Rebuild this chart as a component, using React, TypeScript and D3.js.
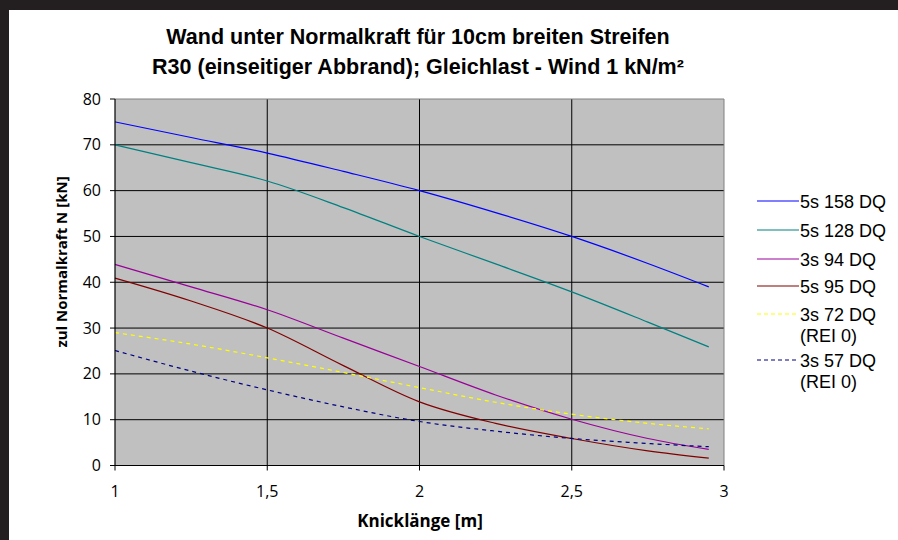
import React from "react";
import * as d3 from "d3";

const xValues = [1, 1.25, 1.5, 1.75, 2, 2.25, 2.5, 2.75, 2.95];
const s158 = [75, 71.6, 68.2, 64.2, 60, 55.2, 50, 44.1, 39];
const s128 = [70, 66.1, 62.1, 56.3, 50, 44, 37.9, 31.3, 25.9];
const s94 = [43.9, 39, 34, 27.8, 21.6, 15.4, 10.1, 5.9, 3.5];
const s95 = [40.9, 35.9, 30, 21.8, 13.9, 9.2, 5.9, 3.2, 1.6];
const s72 = [29, 26.5, 23.5, 20.3, 17, 13.8, 11.2, 9.2, 8.0];
const s57 = [25.1, 20.6, 16.5, 12.8, 9.6, 7.5, 5.9, 4.8, 4.1];

const seriesNames = ["5s 158 DQ", "5s 128 DQ", "3s 94 DQ", "5s 95 DQ", "3s 72 DQ", "3s 57 DQ"];
const seriesSub = ["", "", "", "", "(REI 0)", "(REI 0)"];
const seriesData = [s158, s128, s94, s95, s72, s57];
const seriesColors = ["#0000FF", "#008080", "#990099", "#800000", "#FFFF00", "#000080"];
const seriesDashed = [false, false, false, false, true, true];

const xTicks = [1, 1.5, 2, 2.5, 3];
const xTickLabels = ["1", "1,5", "2", "2,5", "3"];
const yTicks = [0, 10, 20, 30, 40, 50, 60, 70, 80];

const titleLines = [
  "Wand unter Normalkraft für 10cm breiten Streifen",
  "R30 (einseitiger Abbrand); Gleichlast - Wind 1 kN/m²",
];
const xTitle = "Knicklänge [m]";
const yTitle = "zul Normalkraft N [kN]";

export default function App() {
  const W = 898, H = 540;
  const x = d3.scaleLinear().domain([1, 3]).range([115, 724]);
  const y = d3.scaleLinear().domain([0, 80]).range([465.5, 99]);
  const line = d3
    .line<[number, number]>()
    .x((d) => x(d[0]))
    .y((d) => y(d[1]))
    .curve(d3.curveMonotoneX);

  const legendY = [201, 230, 259, 286, 314, 360];
  const tickFont = "'Open Sans', sans-serif";
  const arial = "'Liberation Sans', Arial, sans-serif";

  return (
    <svg width={W} height={H} style={{ position: "absolute", left: 0, top: 0 }}>
      <rect x={0} y={0} width={W} height={H} fill="#ffffff" />
      <rect x={0} y={0} width={W} height={10} fill="#231f20" />
      <rect x={0} y={0} width={9} height={H} fill="#231f20" />
      {titleLines.map((t, i) => (
        <text key={i} x={418} y={44 + i * 30} textAnchor="middle" fontFamily={arial} fontWeight="bold" fontSize={21.5} fill="#000">
          {t}
        </text>
      ))}
      <rect x={x(1)} y={y(80)} width={x(3) - x(1)} height={y(0) - y(80)} fill="#C0C0C0" />
      {yTicks.filter((t) => t > 0 && t < 80).map((t) => (
        <line key={"h" + t} x1={x(1)} x2={x(3)} y1={y(t)} y2={y(t)} stroke="#000" strokeWidth={1} />
      ))}
      {xTicks.filter((t) => t > 1 && t < 3).map((t) => (
        <line key={"v" + t} x1={x(t)} x2={x(t)} y1={y(0)} y2={y(80)} stroke="#000" strokeWidth={1} />
      ))}
      <line x1={x(1)} x2={x(3)} y1={y(80)} y2={y(80)} stroke="#808080" strokeWidth={1} />
      <line x1={x(3)} x2={x(3)} y1={y(80)} y2={y(0)} stroke="#808080" strokeWidth={1} />
      {seriesData.map((s, i) => (
        <path
          key={"s" + i}
          d={line(xValues.map((xv, j) => [xv, s[j]] as [number, number])) || ""}
          fill="none"
          stroke={seriesColors[i]}
          strokeWidth={1.2}
          strokeDasharray={seriesDashed[i] ? "4,4" : undefined}
        />
      ))}
      <line x1={x(1)} x2={x(1)} y1={y(0)} y2={y(80)} stroke="#000" strokeWidth={1.2} />
      <line x1={x(1)} x2={x(3)} y1={y(0)} y2={y(0)} stroke="#000" strokeWidth={1.2} />
      {yTicks.map((t) => (
        <g key={"yt" + t}>
          <line x1={x(1) - 5} x2={x(1)} y1={y(t)} y2={y(t)} stroke="#000" />
          <text x={101} y={y(t) + 5.5} textAnchor="end" fontFamily={tickFont} fontSize={16} fill="#000">
            {t}
          </text>
        </g>
      ))}
      {xTicks.map((t, i) => (
        <g key={"xt" + t}>
          <line x1={x(t)} x2={x(t)} y1={y(0)} y2={y(0) + 5} stroke="#000" />
          <text x={x(t)} y={497} textAnchor="middle" fontFamily={tickFont} fontSize={16} fill="#000">
            {xTickLabels[i]}
          </text>
        </g>
      ))}
      <text x={420} y={527} textAnchor="middle" fontFamily={tickFont} fontWeight="bold" fontSize={17} fill="#000">
        {xTitle}
      </text>
      <text
        transform={`translate(67,262) rotate(-90)`}
        textAnchor="middle"
        fontFamily={tickFont}
        fontWeight="bold"
        fontSize={15}
        fill="#000"
      >
        {yTitle}
      </text>
      {seriesNames.map((n, i) => (
        <g key={"lg" + i}>
          <line
            x1={757}
            x2={799}
            y1={legendY[i]}
            y2={legendY[i]}
            stroke={seriesColors[i]}
            strokeWidth={1.2}
            strokeDasharray={seriesDashed[i] ? "4,3" : undefined}
          />
          <text x={800} y={legendY[i] + 6.5} fontFamily={arial} fontSize={18} fill="#000">
            {n}
          </text>
          {seriesSub[i] && (
            <text x={800} y={legendY[i] + 28} fontFamily={arial} fontSize={18} fill="#000">
              {seriesSub[i]}
            </text>
          )}
        </g>
      ))}
    </svg>
  );
}
